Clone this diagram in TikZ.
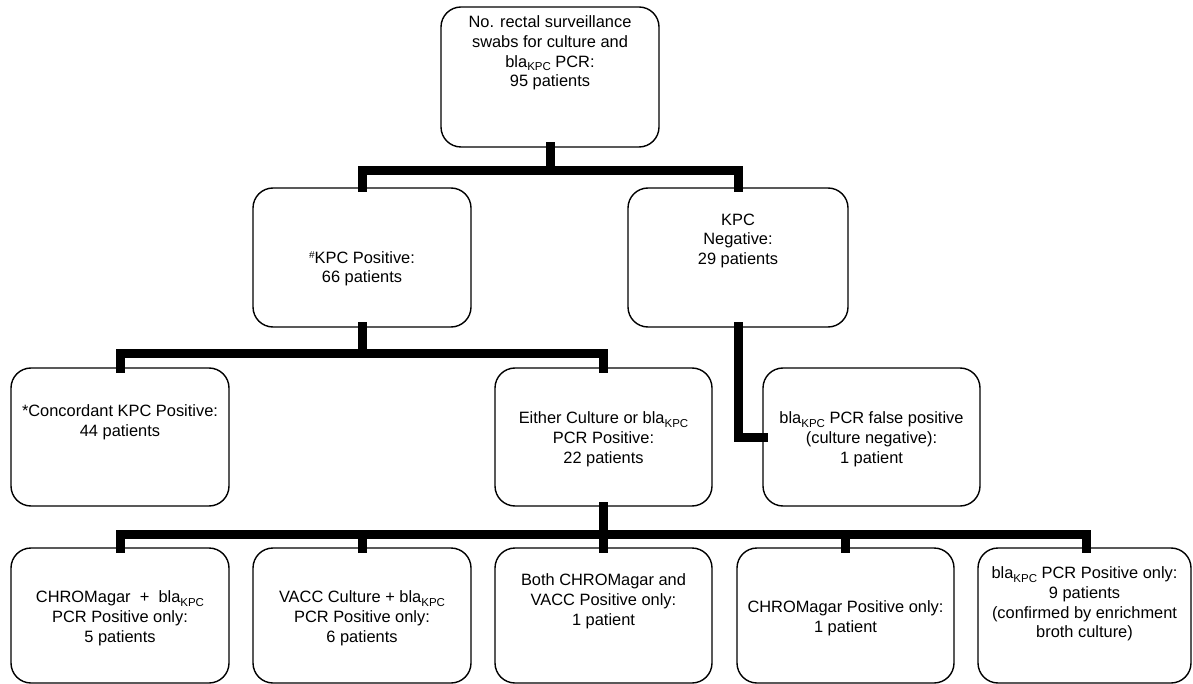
\documentclass[tikz,border=0pt]{standalone}
\usepackage{fontspec}
\setmainfont{Liberation Sans}
\newcommand{\blakpc}{bla\raisebox{-3.5pt}{\fontsize{11.5}{12}\selectfont KPC}}
\newcommand{\hashsup}{\raisebox{5pt}{\fontsize{10}{10}\selectfont\#}}
\begin{document}
\begin{tikzpicture}[x=1pt,y=-1pt,
  box/.style={draw=black, line width=1.4pt, rounded corners=20pt, inner sep=0pt, outer sep=0pt, anchor=north west},
  txt/.style={font=\fontsize{16.4}{19.8}\selectfont, align=center, inner sep=0pt, anchor=north, text=black},
  conn/.style={draw=black, line width=9pt, line join=miter, line cap=rect}]
\useasboundingbox (0,0) rectangle (1193,684);
% boxes
\node[box, minimum width=218pt, minimum height=140pt] (top) at (441,7) {};
\node[box, minimum width=218pt, minimum height=139pt] (kpos) at (253,188) {};
\node[box, minimum width=220pt, minimum height=139pt] (kneg) at (628,188) {};
\node[box, minimum width=218pt, minimum height=138pt] (conc) at (11,368) {};
\node[box, minimum width=217pt, minimum height=138pt] (either) at (495,368) {};
\node[box, minimum width=217pt, minimum height=138pt] (fp) at (763,368) {};
\node[box, minimum width=218pt, minimum height=135pt] (b1) at (11,548) {};
\node[box, minimum width=218pt, minimum height=135pt] (b2) at (253,548) {};
\node[box, minimum width=217pt, minimum height=135pt] (b3) at (495,548) {};
\node[box, minimum width=217pt, minimum height=135pt] (b4) at (737,548) {};
\node[box, minimum width=213pt, minimum height=135pt] (b5) at (978,548) {};
% texts
\node[txt] (ttop) at ([yshift=-8.5pt]top.north) {No. rectal surveillance\\swabs for culture and\\\blakpc{} PCR:\\95 patients};
\node[txt] (tkpos) at ([yshift=-63pt]kpos.north) {\hashsup KPC Positive:\\66 patients};
\node[txt] (tkneg) at ([yshift=-25.5pt]kneg.north) {KPC\\Negative:\\29 patients};
\node[txt] (tconc) at ([yshift=-36.5pt]conc.north) {*Concordant KPC Positive:\\44 patients};
\node[txt] (teither) at ([yshift=-43.5pt]either.north) {Either Culture or \blakpc\\PCR Positive:\\22 patients};
\node[txt] (tfp) at ([yshift=-43.5pt]fp.north) {\blakpc{} PCR false positive\\(culture negative):\\1 patient};
\node[txt] (tb1) at ([yshift=-42.5pt]b1.north) {CHROMagar~~+~~\blakpc\\PCR Positive only:\\5 patients};
\node[txt] (tb2) at ([yshift=-42.5pt]b2.north) {VACC Culture + \blakpc\\PCR Positive only:\\6 patients};
\node[txt] (tb3) at ([yshift=-25.5pt]b3.north) {Both CHROMagar and\\VACC Positive only:\\1 patient};
\node[txt] (tb4) at ([yshift=-52.5pt]b4.north) {CHROMagar Positive only:\\1 patient};
\node[txt] (tb5) at ([yshift=-18.5pt]b5.north) {\blakpc{} PCR Positive only:\\9 patients\\(confirmed by enrichment\\broth culture)};
% bar levels
\coordinate (y1) at (0,171);
\coordinate (y2) at (0,353.5);
\coordinate (y4) at (0,534);
\coordinate (b5n) at ([xshift=2pt]b5.north);
% connectors
\draw[conn] (top.south) -- (top.south |- y1);
\draw[conn] (kpos.north) -- (kpos.north |- y1) -- (kneg.north |- y1) -- (kneg.north);
\draw[conn] (kpos.south) -- (kpos.south |- y2);
\draw[conn] (conc.north) -- (conc.north |- y2) -- (either.north |- y2) -- (either.north);
\draw[conn] (kneg.south) |- (fp.west);
\draw[conn] (either.south) -- (b3.north);
\draw[conn] (b1.north) -- (b1.north |- y4) -- (b5n |- y4) -- (b5n);
\draw[conn] (b2.north) -- (b2.north |- y4);
\draw[conn] (b4.north) -- (b4.north |- y4);
\end{tikzpicture}
\end{document}
